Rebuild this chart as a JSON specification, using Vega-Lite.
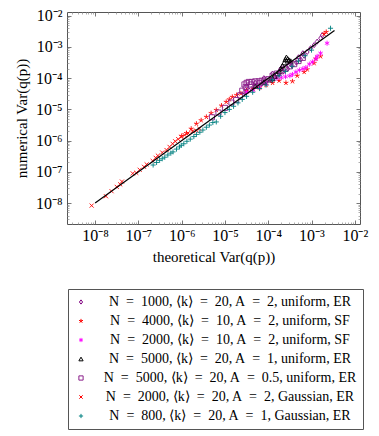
{
  "$schema": "https://vega.github.io/schema/vega-lite/v6.json",
  "autosize": {"type": "none"},
  "width": 293,
  "height": 212,
  "padding": {"left": 67, "top": 12, "right": 19, "bottom": 212},
  "background": "white",
  "config": {"view": {"stroke": "#555", "strokeWidth": 1}},
  "data": {"values": [
    {"s":"fit","x":1e-8,"y":1e-8},{"s":"fit","x":3.4e-3,"y":3.4e-3},
    {"s":"a","x":2.82e-5,"y":3.55e-5},{"s":"a","x":3.55e-5,"y":4.17e-5},{"s":"a","x":4.47e-5,"y":5.01e-5},{"s":"a","x":5.62e-5,"y":5.62e-5},{"s":"a","x":7.08e-5,"y":6.61e-5},{"s":"a","x":8.91e-5,"y":7.59e-5},{"s":"a","x":1.12e-4,"y":9.55e-5},{"s":"a","x":1.41e-4,"y":1.12e-4},{"s":"a","x":1.78e-4,"y":1.38e-4},{"s":"a","x":2.24e-4,"y":1.66e-4},{"s":"a","x":2.82e-4,"y":2.0e-4},{"s":"a","x":3.55e-4,"y":2.51e-4},{"s":"a","x":4.47e-4,"y":3.16e-4},{"s":"a","x":5.62e-4,"y":3.98e-4},{"s":"a","x":6.76e-4,"y":5.25e-4},{"s":"a","x":7.94e-4,"y":6.92e-4},{"s":"a","x":9.55e-4,"y":9.12e-4},{"s":"a","x":1.15e-3,"y":1.15e-3},{"s":"a","x":1.35e-3,"y":1.48e-3},{"s":"a","x":1.62e-3,"y":1.91e-3},{"s":"a","x":1.78e-3,"y":2.4e-3},
    {"s":"a","x":3.16e-5,"y":5.62e-5},{"s":"a","x":5.01e-5,"y":7.08e-5},{"s":"a","x":7.94e-5,"y":1.0e-4},{"s":"a","x":1.26e-4,"y":1.41e-4},{"s":"a","x":2.0e-4,"y":2.09e-4},{"s":"a","x":3.16e-4,"y":3.02e-4},{"s":"a","x":5.01e-4,"y":4.68e-4},{"s":"a","x":6.31e-4,"y":6.31e-4},
    {"s":"b","x":1.0e-6,"y":1.41e-6},{"s":"b","x":1.29e-6,"y":1.74e-6},{"s":"b","x":1.66e-6,"y":2.4e-6},{"s":"b","x":2.19e-6,"y":3.47e-6},{"s":"b","x":2.82e-6,"y":4.47e-6},{"s":"b","x":3.72e-6,"y":5.75e-6},{"s":"b","x":4.79e-6,"y":7.59e-6},{"s":"b","x":6.31e-6,"y":9.55e-6},{"s":"b","x":8.32e-6,"y":1.32e-5},{"s":"b","x":1.07e-5,"y":1.74e-5},{"s":"b","x":1.26e-5,"y":2.09e-5},{"s":"b","x":1.48e-5,"y":2.51e-5},{"s":"b","x":1.86e-5,"y":2.88e-5},{"s":"b","x":2.34e-5,"y":3.24e-5},{"s":"b","x":3.16e-5,"y":3.98e-5},{"s":"b","x":4.47e-5,"y":4.47e-5},{"s":"b","x":6.31e-5,"y":5.01e-5},{"s":"b","x":8.91e-5,"y":6.03e-5},{"s":"b","x":1.26e-4,"y":7.08e-5},{"s":"b","x":1.78e-4,"y":8.32e-5},{"s":"b","x":2.57e-4,"y":7.08e-5},{"s":"b","x":3.63e-4,"y":7.94e-5},{"s":"b","x":4.68e-4,"y":1.2e-4},{"s":"b","x":6.76e-4,"y":1.58e-4},{"s":"b","x":7.94e-4,"y":1.91e-4},{"s":"b","x":1.15e-3,"y":3.02e-4},{"s":"b","x":1.26e-3,"y":4.17e-4},{"s":"b","x":1.62e-3,"y":5.01e-4},{"s":"b","x":1.95e-3,"y":2.63e-3},{"s":"b","x":2.19e-3,"y":3.02e-3},
    {"s":"c","x":3.16e-5,"y":3.55e-5},{"s":"c","x":4.47e-5,"y":4.17e-5},{"s":"c","x":6.31e-5,"y":5.01e-5},{"s":"c","x":8.91e-5,"y":6.61e-5},{"s":"c","x":1.26e-4,"y":8.91e-5},{"s":"c","x":1.58e-4,"y":1.0e-4},{"s":"c","x":2.0e-4,"y":1.05e-4},{"s":"c","x":2.51e-4,"y":1.12e-4},{"s":"c","x":3.16e-4,"y":1.2e-4},{"s":"c","x":3.63e-4,"y":1.32e-4},{"s":"c","x":4.37e-4,"y":1.58e-4},{"s":"c","x":5.25e-4,"y":1.82e-4},{"s":"c","x":6.31e-4,"y":2.0e-4},{"s":"c","x":7.41e-4,"y":2.19e-4},{"s":"c","x":8.91e-4,"y":2.82e-4},{"s":"c","x":1.05e-3,"y":3.31e-4},{"s":"c","x":1.26e-3,"y":4.17e-4},{"s":"c","x":1.35e-3,"y":5.01e-4},{"s":"c","x":1.62e-3,"y":6.31e-4},{"s":"c","x":2.29e-3,"y":1.32e-3},
    {"s":"d","x":5.01e-5,"y":5.62e-5},{"s":"d","x":7.94e-5,"y":7.59e-5},{"s":"d","x":1.12e-4,"y":8.91e-5},{"s":"d","x":1.26e-4,"y":9.77e-5},{"s":"d","x":1.41e-4,"y":1.17e-4},{"s":"d","x":1.62e-4,"y":1.41e-4},{"s":"d","x":1.78e-4,"y":1.66e-4},{"s":"d","x":1.95e-4,"y":2.04e-4},{"s":"d","x":2.14e-4,"y":2.51e-4},{"s":"d","x":2.34e-4,"y":3.16e-4},{"s":"d","x":2.51e-4,"y":3.98e-4},{"s":"d","x":2.63e-4,"y":4.68e-4},{"s":"d","x":2.82e-4,"y":4.17e-4},{"s":"d","x":3.02e-4,"y":3.8e-4},{"s":"d","x":3.31e-4,"y":3.55e-4},
    {"s":"e","x":5.01e-6,"y":5.62e-6},{"s":"e","x":7.08e-6,"y":7.94e-6},{"s":"e","x":1.0e-5,"y":1.12e-5},{"s":"e","x":1.41e-5,"y":1.66e-5},{"s":"e","x":1.82e-5,"y":2.0e-5},{"s":"e","x":2.24e-5,"y":2.82e-5},{"s":"e","x":2.51e-5,"y":3.98e-5},{"s":"e","x":2.82e-5,"y":6.31e-5},{"s":"e","x":3.16e-5,"y":7.08e-5},{"s":"e","x":3.55e-5,"y":7.59e-5},{"s":"e","x":4.17e-5,"y":7.59e-5},{"s":"e","x":5.01e-5,"y":7.94e-5},{"s":"e","x":6.03e-5,"y":7.94e-5},{"s":"e","x":7.08e-5,"y":8.32e-5},{"s":"e","x":8.32e-5,"y":8.51e-5},{"s":"e","x":1.0e-4,"y":9.33e-5},{"s":"e","x":1.26e-4,"y":1.2e-4},{"s":"e","x":1.58e-4,"y":1.41e-4},{"s":"e","x":2.0e-4,"y":1.66e-4},{"s":"e","x":2.51e-4,"y":2.0e-4},{"s":"e","x":3.16e-4,"y":2.4e-4},{"s":"e","x":3.98e-4,"y":2.82e-4},{"s":"e","x":5.01e-4,"y":3.55e-4},{"s":"e","x":6.31e-4,"y":4.47e-4},
    {"s":"e","x":3.02e-5,"y":5.25e-5},{"s":"e","x":3.98e-5,"y":6.31e-5},{"s":"e","x":6.31e-5,"y":6.92e-5},
    {"s":"f","x":8.32e-9,"y":8.32e-9},{"s":"f","x":1.78e-8,"y":1.66e-8},{"s":"f","x":2.4e-8,"y":2.4e-8},{"s":"f","x":3.16e-8,"y":3.31e-8},{"s":"f","x":3.8e-8,"y":3.98e-8},{"s":"f","x":4.17e-8,"y":4.9e-8},{"s":"f","x":7.41e-8,"y":8.91e-8},{"s":"f","x":8.91e-8,"y":9.33e-8},{"s":"f","x":1.07e-7,"y":1.17e-7},{"s":"f","x":1.35e-7,"y":1.45e-7},{"s":"f","x":1.55e-7,"y":1.74e-7},{"s":"f","x":2.14e-7,"y":2.24e-7},{"s":"f","x":2.51e-7,"y":2.82e-7},{"s":"f","x":2.82e-7,"y":3.31e-7},{"s":"f","x":3.55e-7,"y":4.17e-7},{"s":"f","x":4.47e-7,"y":5.01e-7},{"s":"f","x":5.25e-7,"y":6.31e-7},{"s":"f","x":6.17e-7,"y":7.94e-7},{"s":"f","x":7.08e-7,"y":9.55e-7},{"s":"f","x":8.32e-7,"y":1.12e-6},{"s":"f","x":9.77e-7,"y":1.32e-6},{"s":"f","x":1.17e-6,"y":1.51e-6},{"s":"f","x":1.41e-6,"y":1.74e-6},{"s":"f","x":1.78e-6,"y":2.0e-6},{"s":"f","x":2.19e-6,"y":2.09e-6},{"s":"f","x":2.57e-6,"y":2.4e-6},
    {"s":"g","x":2.19e-7,"y":1.66e-7},{"s":"g","x":2.63e-7,"y":2.0e-7},{"s":"g","x":3.09e-7,"y":2.34e-7},{"s":"g","x":3.55e-7,"y":2.63e-7},{"s":"g","x":4.07e-7,"y":2.95e-7},{"s":"g","x":4.79e-7,"y":3.47e-7},{"s":"g","x":5.62e-7,"y":3.98e-7},{"s":"g","x":6.31e-7,"y":4.37e-7},{"s":"g","x":7.59e-7,"y":5.37e-7},{"s":"g","x":8.91e-7,"y":6.31e-7},{"s":"g","x":9.77e-7,"y":7.08e-7},{"s":"g","x":1.12e-6,"y":7.94e-7},{"s":"g","x":1.32e-6,"y":9.55e-7},{"s":"g","x":1.58e-6,"y":1.12e-6},{"s":"g","x":1.91e-6,"y":1.35e-6},{"s":"g","x":2.19e-6,"y":1.58e-6},{"s":"g","x":2.63e-6,"y":1.86e-6},{"s":"g","x":3.09e-6,"y":2.19e-6},{"s":"g","x":3.72e-6,"y":2.69e-6},{"s":"g","x":4.37e-6,"y":3.16e-6},{"s":"g","x":5.25e-6,"y":3.8e-6},{"s":"g","x":6.31e-6,"y":3.98e-6},{"s":"g","x":7.94e-6,"y":6.03e-6},{"s":"g","x":1.0e-5,"y":7.94e-6},{"s":"g","x":1.26e-5,"y":1.0e-5},{"s":"g","x":1.58e-5,"y":1.26e-5},{"s":"g","x":2.0e-5,"y":1.62e-5},{"s":"g","x":2.51e-5,"y":2.09e-5},{"s":"g","x":3.16e-5,"y":2.63e-5},{"s":"g","x":4.37e-5,"y":3.55e-5},{"s":"g","x":6.31e-5,"y":4.68e-5},{"s":"g","x":8.91e-5,"y":6.03e-5},{"s":"g","x":1.26e-4,"y":8.91e-5},{"s":"g","x":1.78e-4,"y":1.2e-4},{"s":"g","x":2.51e-4,"y":1.66e-4},{"s":"g","x":3.55e-4,"y":2.4e-4},{"s":"g","x":5.01e-4,"y":3.55e-4},{"s":"g","x":7.08e-4,"y":5.25e-4},{"s":"g","x":1.0e-3,"y":7.94e-4},{"s":"g","x":2.75e-3,"y":3.98e-3}
  ]},
  "resolve": {"axis": {"x": "independent", "y": "independent"}},
  "layer": [
    {
      "transform": [{"filter": "datum.s != 'fit'"}],
      "mark": {"type": "point", "filled": false, "opacity": 1, "strokeWidth": 0.9, "size": 26},
      "encoding": {
        "x": {"field": "x", "type": "quantitative",
          "scale": {"type": "log", "domain": [2.24e-9, 1.32e-2], "nice": false},
          "axis": {"orient": "bottom", "values": [1e-8, 1e-7, 1e-6, 1e-5, 1e-4, 1e-3, 1e-2],
            "labelExpr": "'10' + (datum.value < 3e-8 ? '⁻⁸' : datum.value < 3e-7 ? '⁻⁷' : datum.value < 3e-6 ? '⁻⁶' : datum.value < 3e-5 ? '⁻⁵' : datum.value < 3e-4 ? '⁻⁴' : datum.value < 3e-3 ? '⁻³' : '⁻²')",
            "ticks": false, "domain": false, "grid": false, "labelFlush": false,
            "labelFont": "Liberation Serif", "labelFontSize": 16, "labelColor": "black", "labelPadding": 3,
            "title": "theoretical Var(q(p))", "titleFont": "Liberation Serif", "titleFontSize": 15,
            "titleFontWeight": "normal", "titleColor": "black", "titlePadding": 6}},
        "y": {"field": "y", "type": "quantitative",
          "scale": {"type": "log", "domain": [2.14e-9, 1.32e-2], "nice": false},
          "axis": {"orient": "left", "values": [1e-8, 1e-7, 1e-6, 1e-5, 1e-4, 1e-3, 1e-2],
            "labelExpr": "'10' + (datum.value < 3e-8 ? '⁻⁸' : datum.value < 3e-7 ? '⁻⁷' : datum.value < 3e-6 ? '⁻⁶' : datum.value < 3e-5 ? '⁻⁵' : datum.value < 3e-4 ? '⁻⁴' : datum.value < 3e-3 ? '⁻³' : '⁻²')",
            "ticks": false, "domain": false, "grid": false, "labelFlush": false,
            "labelFont": "Liberation Serif", "labelFontSize": 16, "labelColor": "black", "labelPadding": 5,
            "title": "numerical Var(q(p))", "titleFont": "Liberation Serif", "titleFontSize": 15,
            "titleFontWeight": "normal", "titleColor": "black", "titlePadding": 6}},
        "color": {"field": "s", "type": "nominal",
          "scale": {"domain": ["a", "b", "c", "d", "e", "f", "g"],
            "range": ["#800080", "#ff0000", "#ff00ff", "#000000", "#8b1f8b", "#ff0000", "#008080"]},
          "legend": {"orient": "none", "legendX": 1, "legendY": 277, "title": null,
            "strokeColor": "#555", "padding": 6, "rowPadding": 5,
            "symbolSize": 18, "symbolStrokeWidth": 1, "symbolType": "circle",
            "labelFont": "Liberation Serif", "labelFontSize": 14, "labelColor": "black",
            "labelAlign": "center", "labelOffset": 142, "labelLimit": 400,
            "labelExpr": "datum.label == 'a' ? 'N\u2002=\u20021000, ⟨k⟩\u2002=\u200220, A\u2002=\u20022, uniform, ER' : datum.label == 'b' ? 'N\u2002=\u20024000, ⟨k⟩\u2002=\u200210, A\u2002=\u20022, uniform, SF' : datum.label == 'c' ? 'N\u2002=\u20022000, ⟨k⟩\u2002=\u200210, A\u2002=\u20022, uniform, SF' : datum.label == 'd' ? 'N\u2002=\u20025000, ⟨k⟩\u2002=\u200220, A\u2002=\u20021, uniform, ER' : datum.label == 'e' ? 'N\u2002=\u20025000, ⟨k⟩\u2002=\u200220, A\u2002=\u20020.5, uniform, ER' : datum.label == 'f' ? 'N\u2002=\u20022000, ⟨k⟩\u2002=\u200220, A\u2002=\u20022, Gaussian, ER' : 'N\u2002=\u2002800, ⟨k⟩\u2002=\u200220, A\u2002=\u20021, Gaussian, ER'"}},
        "shape": {"field": "s", "type": "nominal",
          "scale": {"domain": ["a", "b", "c", "d", "e", "f", "g"],
            "range": ["M0,-1L0.75,0L0,1L-0.75,0Z",
              "M0,0L0,-1M0,0L-0.95,-0.31M0,0L-0.59,0.81M0,0L0.59,0.81M0,0L0.95,-0.31",
              "M0,-1L0,1M-0.87,-0.5L0.87,0.5M-0.87,0.5L0.87,-0.5",
              "triangle-up", "square",
              "M-0.8,-0.8L0.8,0.8M-0.8,0.8L0.8,-0.8",
              "M-1,0L1,0M0,-1L0,1"]}}
      }
    },
    {
      "transform": [{"filter": "datum.s == 'fit'"}],
      "mark": {"type": "line", "color": "black", "strokeWidth": 1.2},
      "encoding": {
        "x": {"field": "x", "type": "quantitative",
          "axis": {"orient": "bottom", "values": [1e-8, 1e-7, 1e-6, 1e-5, 1e-4, 1e-3, 1e-2], "labels": false, "domain": false, "grid": false, "title": null, "offset": -4, "tickSize": 4, "tickColor": "#555", "tickWidth": 0.8}},
        "y": {"field": "y", "type": "quantitative",
          "axis": {"orient": "left", "values": [1e-8, 1e-7, 1e-6, 1e-5, 1e-4, 1e-3, 1e-2], "labels": false, "domain": false, "grid": false, "title": null, "offset": -4, "tickSize": 4, "tickColor": "#555", "tickWidth": 0.8}}
      }
    },
    {
      "transform": [{"filter": "datum.s == 'fit'"}],
      "mark": {"type": "line", "opacity": 0},
      "encoding": {
        "x": {"field": "x", "type": "quantitative",
          "axis": {"orient": "top", "values": [1e-8, 1e-7, 1e-6, 1e-5, 1e-4, 1e-3, 1e-2], "labels": false, "domain": false, "grid": false, "title": null, "offset": -4, "tickSize": 4, "tickColor": "#555", "tickWidth": 0.8}},
        "y": {"field": "y", "type": "quantitative",
          "axis": {"orient": "right", "values": [1e-8, 1e-7, 1e-6, 1e-5, 1e-4, 1e-3, 1e-2], "labels": false, "domain": false, "grid": false, "title": null, "offset": -4, "tickSize": 4, "tickColor": "#555", "tickWidth": 0.8}}
      }
    },
    {
      "transform": [{"filter": "datum.s == 'fit'"}],
      "mark": {"type": "line", "opacity": 0},
      "encoding": {
        "x": {"field": "x", "type": "quantitative",
          "axis": {"orient": "bottom", "values": [3e-9,4e-9,5e-9,6e-9,7e-9,8e-9,9e-9,2e-8,3e-8,4e-8,5e-8,6e-8,7e-8,8e-8,9e-8,2e-7,3e-7,4e-7,5e-7,6e-7,7e-7,8e-7,9e-7,2e-6,3e-6,4e-6,5e-6,6e-6,7e-6,8e-6,9e-6,2e-5,3e-5,4e-5,5e-5,6e-5,7e-5,8e-5,9e-5,2e-4,3e-4,4e-4,5e-4,6e-4,7e-4,8e-4,9e-4,2e-3,3e-3,4e-3,5e-3,6e-3,7e-3,8e-3,9e-3], "labels": false, "domain": false, "grid": false, "title": null, "offset": -2, "tickSize": 2, "tickColor": "#999", "tickWidth": 0.8}},
        "y": {"field": "y", "type": "quantitative",
          "axis": {"orient": "left", "values": [3e-9,4e-9,5e-9,6e-9,7e-9,8e-9,9e-9,2e-8,3e-8,4e-8,5e-8,6e-8,7e-8,8e-8,9e-8,2e-7,3e-7,4e-7,5e-7,6e-7,7e-7,8e-7,9e-7,2e-6,3e-6,4e-6,5e-6,6e-6,7e-6,8e-6,9e-6,2e-5,3e-5,4e-5,5e-5,6e-5,7e-5,8e-5,9e-5,2e-4,3e-4,4e-4,5e-4,6e-4,7e-4,8e-4,9e-4,2e-3,3e-3,4e-3,5e-3,6e-3,7e-3,8e-3,9e-3], "labels": false, "domain": false, "grid": false, "title": null, "offset": -2, "tickSize": 2, "tickColor": "#999", "tickWidth": 0.8}}
      }
    },
    {
      "transform": [{"filter": "datum.s == 'fit'"}],
      "mark": {"type": "line", "opacity": 0},
      "encoding": {
        "x": {"field": "x", "type": "quantitative",
          "axis": {"orient": "top", "values": [3e-9,4e-9,5e-9,6e-9,7e-9,8e-9,9e-9,2e-8,3e-8,4e-8,5e-8,6e-8,7e-8,8e-8,9e-8,2e-7,3e-7,4e-7,5e-7,6e-7,7e-7,8e-7,9e-7,2e-6,3e-6,4e-6,5e-6,6e-6,7e-6,8e-6,9e-6,2e-5,3e-5,4e-5,5e-5,6e-5,7e-5,8e-5,9e-5,2e-4,3e-4,4e-4,5e-4,6e-4,7e-4,8e-4,9e-4,2e-3,3e-3,4e-3,5e-3,6e-3,7e-3,8e-3,9e-3], "labels": false, "domain": false, "grid": false, "title": null, "offset": -2, "tickSize": 2, "tickColor": "#999", "tickWidth": 0.8}},
        "y": {"field": "y", "type": "quantitative",
          "axis": {"orient": "right", "values": [3e-9,4e-9,5e-9,6e-9,7e-9,8e-9,9e-9,2e-8,3e-8,4e-8,5e-8,6e-8,7e-8,8e-8,9e-8,2e-7,3e-7,4e-7,5e-7,6e-7,7e-7,8e-7,9e-7,2e-6,3e-6,4e-6,5e-6,6e-6,7e-6,8e-6,9e-6,2e-5,3e-5,4e-5,5e-5,6e-5,7e-5,8e-5,9e-5,2e-4,3e-4,4e-4,5e-4,6e-4,7e-4,8e-4,9e-4,2e-3,3e-3,4e-3,5e-3,6e-3,7e-3,8e-3,9e-3], "labels": false, "domain": false, "grid": false, "title": null, "offset": -2, "tickSize": 2, "tickColor": "#999", "tickWidth": 0.8}}
      }
    }
  ]
}
